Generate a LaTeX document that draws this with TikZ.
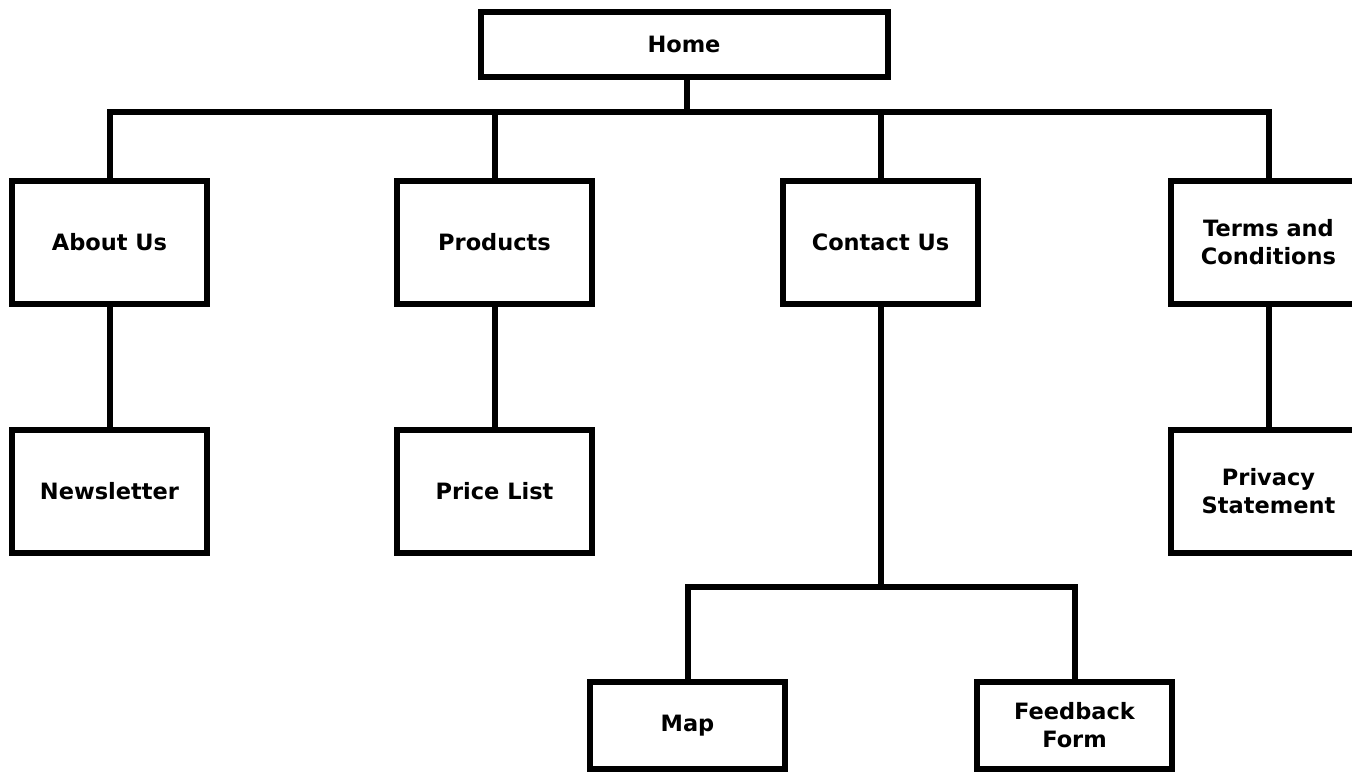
\documentclass[tikz,border=0pt]{standalone}
\usepackage{fontspec}
\setmainfont{DejaVu Sans}
\begin{document}
\begin{tikzpicture}[x=1pt,y=-1pt,
  pagebox/.style={draw=black,line width=6pt,fill=white,align=center,inner sep=0pt,
    minimum width=195pt,minimum height=123pt,font=\fontsize{22.5}{28}\selectfont\bfseries},
  link/.style={line width=6pt,draw=black}]
\useasboundingbox (0,0) rectangle (1352,772);
\clip (0,0) rectangle (1352,772);
\fill[white] (0,0) rectangle (1352,772);
\coordinate (bus) at (687,112);
\coordinate (sub) at (880.5,587);
\node[pagebox,minimum width=407pt,minimum height=65pt] (home) at (684,44.5) {Home};
\node[pagebox] (about) at (109.5,242) {About Us};
\node[pagebox] (products) at (494.5,242) {Products};
\node[pagebox] (contact) at (880.5,242) {Contact Us};
\node[pagebox] (terms) at (1268.5,242) {Terms and\\Conditions};
\node[pagebox] (news) at (109.5,491.5) {Newsletter};
\node[pagebox] (price) at (494.5,491.5) {Price List};
\node[pagebox] (privacy) at (1268.5,491.5) {Privacy\\Statement};
\node[pagebox,minimum height=87pt] (map) at (687.5,725.5) {Map};
\node[pagebox,minimum height=87pt] (feedback) at (1074.5,725.5) {Feedback\\Form};
\draw[link] (home.south -| bus) -- (bus);
\draw[link] (about.north) |- (bus) -| (terms.north);
\draw[link] (products.north) -- (products.north |- bus);
\draw[link] (contact.north) -- (contact.north |- bus);
\draw[link] (about.south) -- (news.north);
\draw[link] (products.south) -- (price.north);
\draw[link] (terms.south) -- (privacy.north);
\draw[link] (contact.south) -- (sub);
\draw[link] (map.north) |- (sub) -| (feedback.north);
\end{tikzpicture}
\end{document}
